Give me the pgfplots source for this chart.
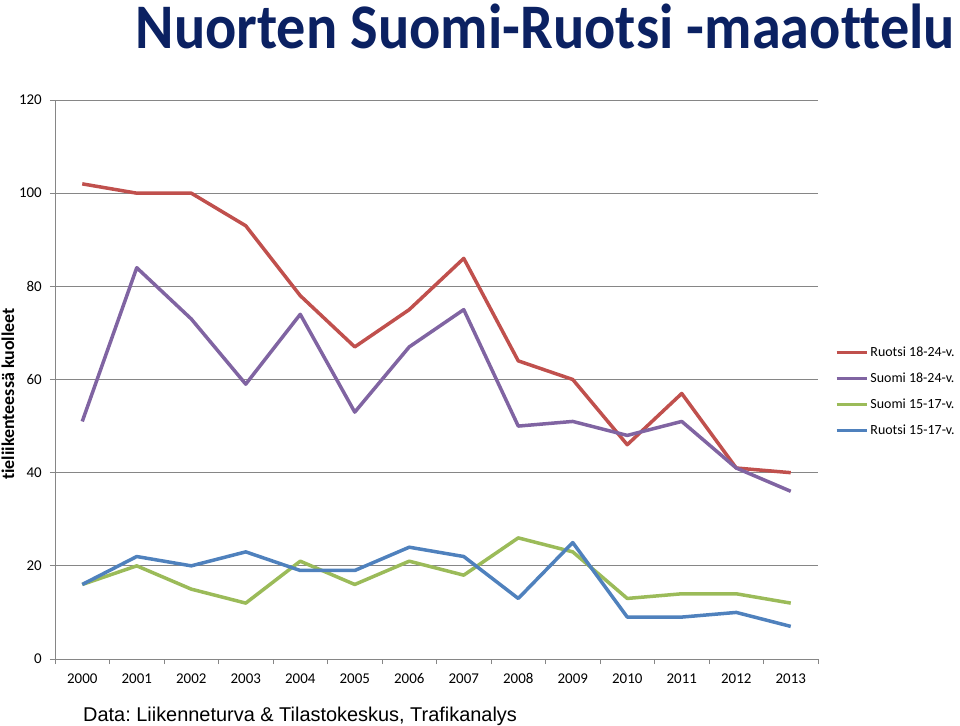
\documentclass[border=0pt]{standalone}
\usepackage{fontspec}
\setmainfont[Ligatures=NoCommon]{Carlito}
\newfontfamily\arial{Liberation Sans}
\usepackage{pgfplots}
\pgfplotsset{compat=1.18}
\definecolor{ruo}{HTML}{C0504D}
\definecolor{suo}{HTML}{8064A2}
\definecolor{suonuo}{HTML}{9BBB59}
\definecolor{ruonuo}{HTML}{4F81BD}
\definecolor{navy}{HTML}{0B2162}
\definecolor{harmaa}{HTML}{868686}
\frenchspacing

\begin{document}
\begin{tikzpicture}
\useasboundingbox (0bp,0bp) rectangle (960bp,-726bp);
\begin{axis}[at={(55bp,-659bp)},anchor=south west,scale only axis,width=763bp,height=559bp,
  xmin=-0.5,xmax=13.5,ymin=0,ymax=120,
  axis x line*=bottom,axis y line*=left,axis line style={harmaa,line width=1bp,-},
  xtick={-0.5,0.5,...,13.5},x tick label as interval,
  xticklabels={2000,2001,2002,2003,2004,2005,2006,2007,2008,2009,2010,2011,2012,2013},
  ytick={0,20,...,120},
  ymajorgrids,grid style={harmaa,line width=1bp},
  tick align=outside,major tick length=5bp,tick style={harmaa,line width=1bp},
  /pgf/number format/assume math mode=true,
  ticklabel style={font=\fontsize{15}{16}\selectfont},
  yticklabel style={inner xsep=0pt,xshift=-8bp},
  xticklabel style={text height=10bp,text depth=0pt,inner ysep=0pt,yshift=-9bp},
  legend style={at={(1.022,0.5625)},anchor=north west,draw=none,fill=none,
    font=\fontsize{14}{16}\selectfont,row sep=11bp,inner sep=0pt},
  legend cell align=left,
  legend image code/.code={\draw[#1,line width=3.5bp] (0bp,0bp) -- (30bp,0bp);},
  every axis plot/.append style={line width=3.5bp,line join=round,mark=none},
]
\addplot[ruo] coordinates {(0,102)(1,100)(2,100)(3,93)(4,78)(5,67)(6,75)(7,86)(8,64)(9,60)(10,46)(11,57)(12,41)(13,40)};
\addlegendentry{Ruotsi 18-24-v.}
\addplot[suo] coordinates {(0,51)(1,84)(2,73)(3,59)(4,74)(5,53)(6,67)(7,75)(8,50)(9,51)(10,48)(11,51)(12,41)(13,36)};
\addlegendentry{Suomi 18-24-v.}
\addplot[suonuo] coordinates {(0,16)(1,20)(2,15)(3,12)(4,21)(5,16)(6,21)(7,18)(8,26)(9,23)(10,13)(11,14)(12,14)(13,12)};
\addlegendentry{Suomi 15-17-v.}
\addplot[ruonuo] coordinates {(0,16)(1,22)(2,20)(3,23)(4,19)(5,19)(6,24)(7,22)(8,13)(9,25)(10,9)(11,9)(12,10)(13,7)};
\addlegendentry{Ruotsi 15-17-v.}
\end{axis}
\node[anchor=base east,text=navy,font=\fontsize{58.5}{60}\selectfont\bfseries,inner sep=0pt] at (955bp,-48bp) {\scalebox{1}[1.09]{Nuorten Suomi-Ruotsi -maaottelu}};
\node[rotate=90,font=\fontsize{18}{20}\selectfont\bfseries,inner sep=0pt] at (8bp,-394bp) {tieliikenteessä kuolleet};
\node[anchor=base west,font=\arial\fontsize{20}{22}\selectfont,inner sep=0pt] at (83bp,-721bp) {Data: Liikenneturva \& Tilastokeskus, Trafikanalys};
\end{tikzpicture}
\end{document}
